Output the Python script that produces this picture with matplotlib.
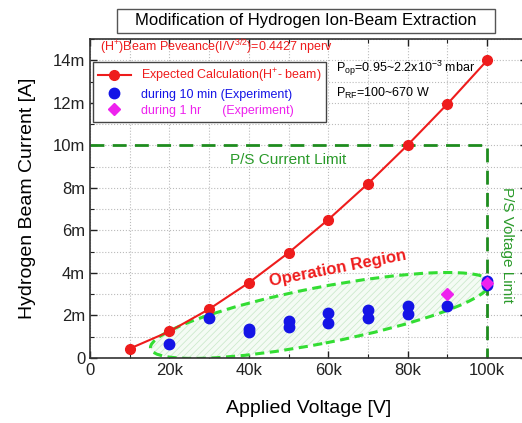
import matplotlib
matplotlib.use("Agg")
import matplotlib.pyplot as plt
from matplotlib.patches import Ellipse, Rectangle
from matplotlib.transforms import IdentityTransform
from matplotlib.ticker import MultipleLocator, FuncFormatter

plt.rcParams["font.family"] = ["Liberation Sans", "DejaVu Sans"]
plt.rcParams["mathtext.fontset"] = "custom"
plt.rcParams["mathtext.rm"] = "Liberation Sans"
plt.rcParams["mathtext.it"] = "Liberation Sans"
plt.rcParams["mathtext.bf"] = "Liberation Sans:bold"
plt.rcParams["hatch.linewidth"] = 0.6

# expected calculation (perveance 0.4427 nperv), values in A
calc_v = [10e3, 20e3, 30e3, 40e3, 50e3, 60e3, 70e3, 80e3, 90e3, 100e3]
calc_i = [0.44e-3, 1.25e-3, 2.30e-3, 3.54e-3, 4.95e-3, 6.51e-3, 8.20e-3, 10.02e-3, 11.95e-3, 14.0e-3]

# measured, 10 min runs
exp10_v = [20e3, 30e3, 40e3, 40e3, 50e3, 50e3, 60e3, 60e3, 70e3, 70e3, 80e3, 80e3, 90e3, 100e3, 100e3]
exp10_i = [0.64e-3, 1.90e-3, 1.36e-3, 1.24e-3, 1.76e-3, 1.47e-3, 2.13e-3, 1.65e-3,
           2.26e-3, 1.86e-3, 2.46e-3, 2.08e-3, 2.46e-3, 3.62e-3, 3.43e-3]

# measured, 1 hr runs
exp1h_v = [90e3, 100e3]
exp1h_i = [3.01e-3, 3.53e-3]

current_limit = 10e-3
voltage_limit = 100e3

fig = plt.figure(figsize=(5.22, 4.23), dpi=100)
ax = fig.add_axes([0.1724, 0.1537, 0.837, 0.754])
ax.set_xlim(0, 110e3)
ax.set_ylim(0, 15e-3)

ax.xaxis.set_major_locator(MultipleLocator(20e3))
ax.xaxis.set_minor_locator(MultipleLocator(10e3))
ax.yaxis.set_major_locator(MultipleLocator(2e-3))
ax.yaxis.set_minor_locator(MultipleLocator(1e-3))
ax.xaxis.set_major_formatter(FuncFormatter(lambda v, p: "0" if v == 0 else "%dk" % round(v / 1e3)))
ax.yaxis.set_major_formatter(FuncFormatter(lambda v, p: "0" if v == 0 else "%dm" % round(v * 1e3)))
ax.tick_params(which="both", direction="in", top=True, right=True, labelsize=12, colors="#222222")
ax.tick_params(which="major", length=5, width=1)
ax.tick_params(which="minor", length=3, width=0.8)
for s in ax.spines.values():
    s.set_linewidth(1.2)
    s.set_color("#333333")
ax.grid(True, which="both", linestyle=":", color="#bbbbbb", linewidth=0.8)
ax.set_axisbelow(True)

# operation region ellipse (drawn in pixels)
cx, cy = ax.transData.transform((58e3, 2.0e-3))
fill = Ellipse((cx, cy), 346, 56, angle=11, transform=IdentityTransform(),
               facecolor="#f4fbf4", edgecolor="#cdeacd", linewidth=0, hatch="/////", zorder=1)
ax.add_artist(fill)
outline = Ellipse((cx, cy), 346, 56, angle=11, transform=IdentityTransform(),
                  facecolor="none", edgecolor="#33dd33", linewidth=2.2, linestyle=(0, (3, 1.8)), zorder=2)
ax.add_artist(outline)

# power supply limits
ax.plot([0, voltage_limit, voltage_limit], [current_limit, current_limit, 0],
        color="#1e8c1e", linewidth=2, linestyle=(0, (5, 3)), zorder=2)

ax.plot(calc_v, calc_i, color="#ee1c1c", marker="o", markersize=7, linewidth=1.5,
        label=r"Expected Calculation(H$^{+}$- beam)", zorder=4)
ax.plot(exp10_v, exp10_i, linestyle="none", marker="o", markersize=7.5, color="#1414e6",
        label="during 10 min (Experiment)", zorder=5)
ax.plot(exp1h_v, exp1h_i, linestyle="none", marker="D", markersize=6.5, color="#ee22ee",
        label="during 1 hr      (Experiment)", zorder=6)

leg = ax.legend(loc="upper left", bbox_to_anchor=(0.007, 0.928), fontsize=9, numpoints=1,
                fancybox=False, edgecolor="#444444", framealpha=1, borderpad=0.4,
                handlelength=2.6, labelspacing=0.3, borderaxespad=0)
leg.get_frame().set_linewidth(1)
for txt, c in zip(leg.get_texts(), ["#ee1c1c", "#1414e6", "#ee22ee"]):
    txt.set_color(c)

ax.text(2.5e3, 14.6e-3, r"(H$^{+}$)Beam Peveance(I/V$^{3/2}$)=0.4427 nperv",
        color="#ee1c1c", fontsize=9, va="center", ha="left")
ax.text(62e3, 13.6e-3, r"P$_{\mathrm{op}}$=0.95~2.2x10$^{-3}$ mbar", fontsize=9, va="center", ha="left")
ax.text(62e3, 12.45e-3, r"P$_{\mathrm{RF}}$=100~670 W", fontsize=9, va="center", ha="left")
ax.text(50e3, 9.3e-3, "P/S Current Limit", color="#2a9a2a", fontsize=11, ha="center", va="center")
ax.text(105e3, 5.3e-3, "P/S Voltage Limit", color="#2a9a2a", fontsize=11, ha="center",
        va="center", rotation=-90)
ax.text(62.5e3, 4.2e-3, "Operation Region", color="#ee1c1c", fontsize=12, fontweight="bold",
        ha="center", va="center", rotation=11)

ax.set_xlabel("Applied Voltage [V]", fontsize=14, labelpad=16)
ax.set_ylabel("Hydrogen Beam Current [A]", fontsize=14, labelpad=12)

# title in a box
fig.patches.append(Rectangle((117 / 522, 1 - 33 / 423), 378 / 522, 24 / 423,
                             transform=fig.transFigure, facecolor="white",
                             edgecolor="#555555", linewidth=1))
fig.text(306 / 522, 1 - 21 / 423, "Modification of Hydrogen Ion-Beam Extraction",
         fontsize=12, ha="center", va="center")

fig.savefig("out.png", dpi=100)
